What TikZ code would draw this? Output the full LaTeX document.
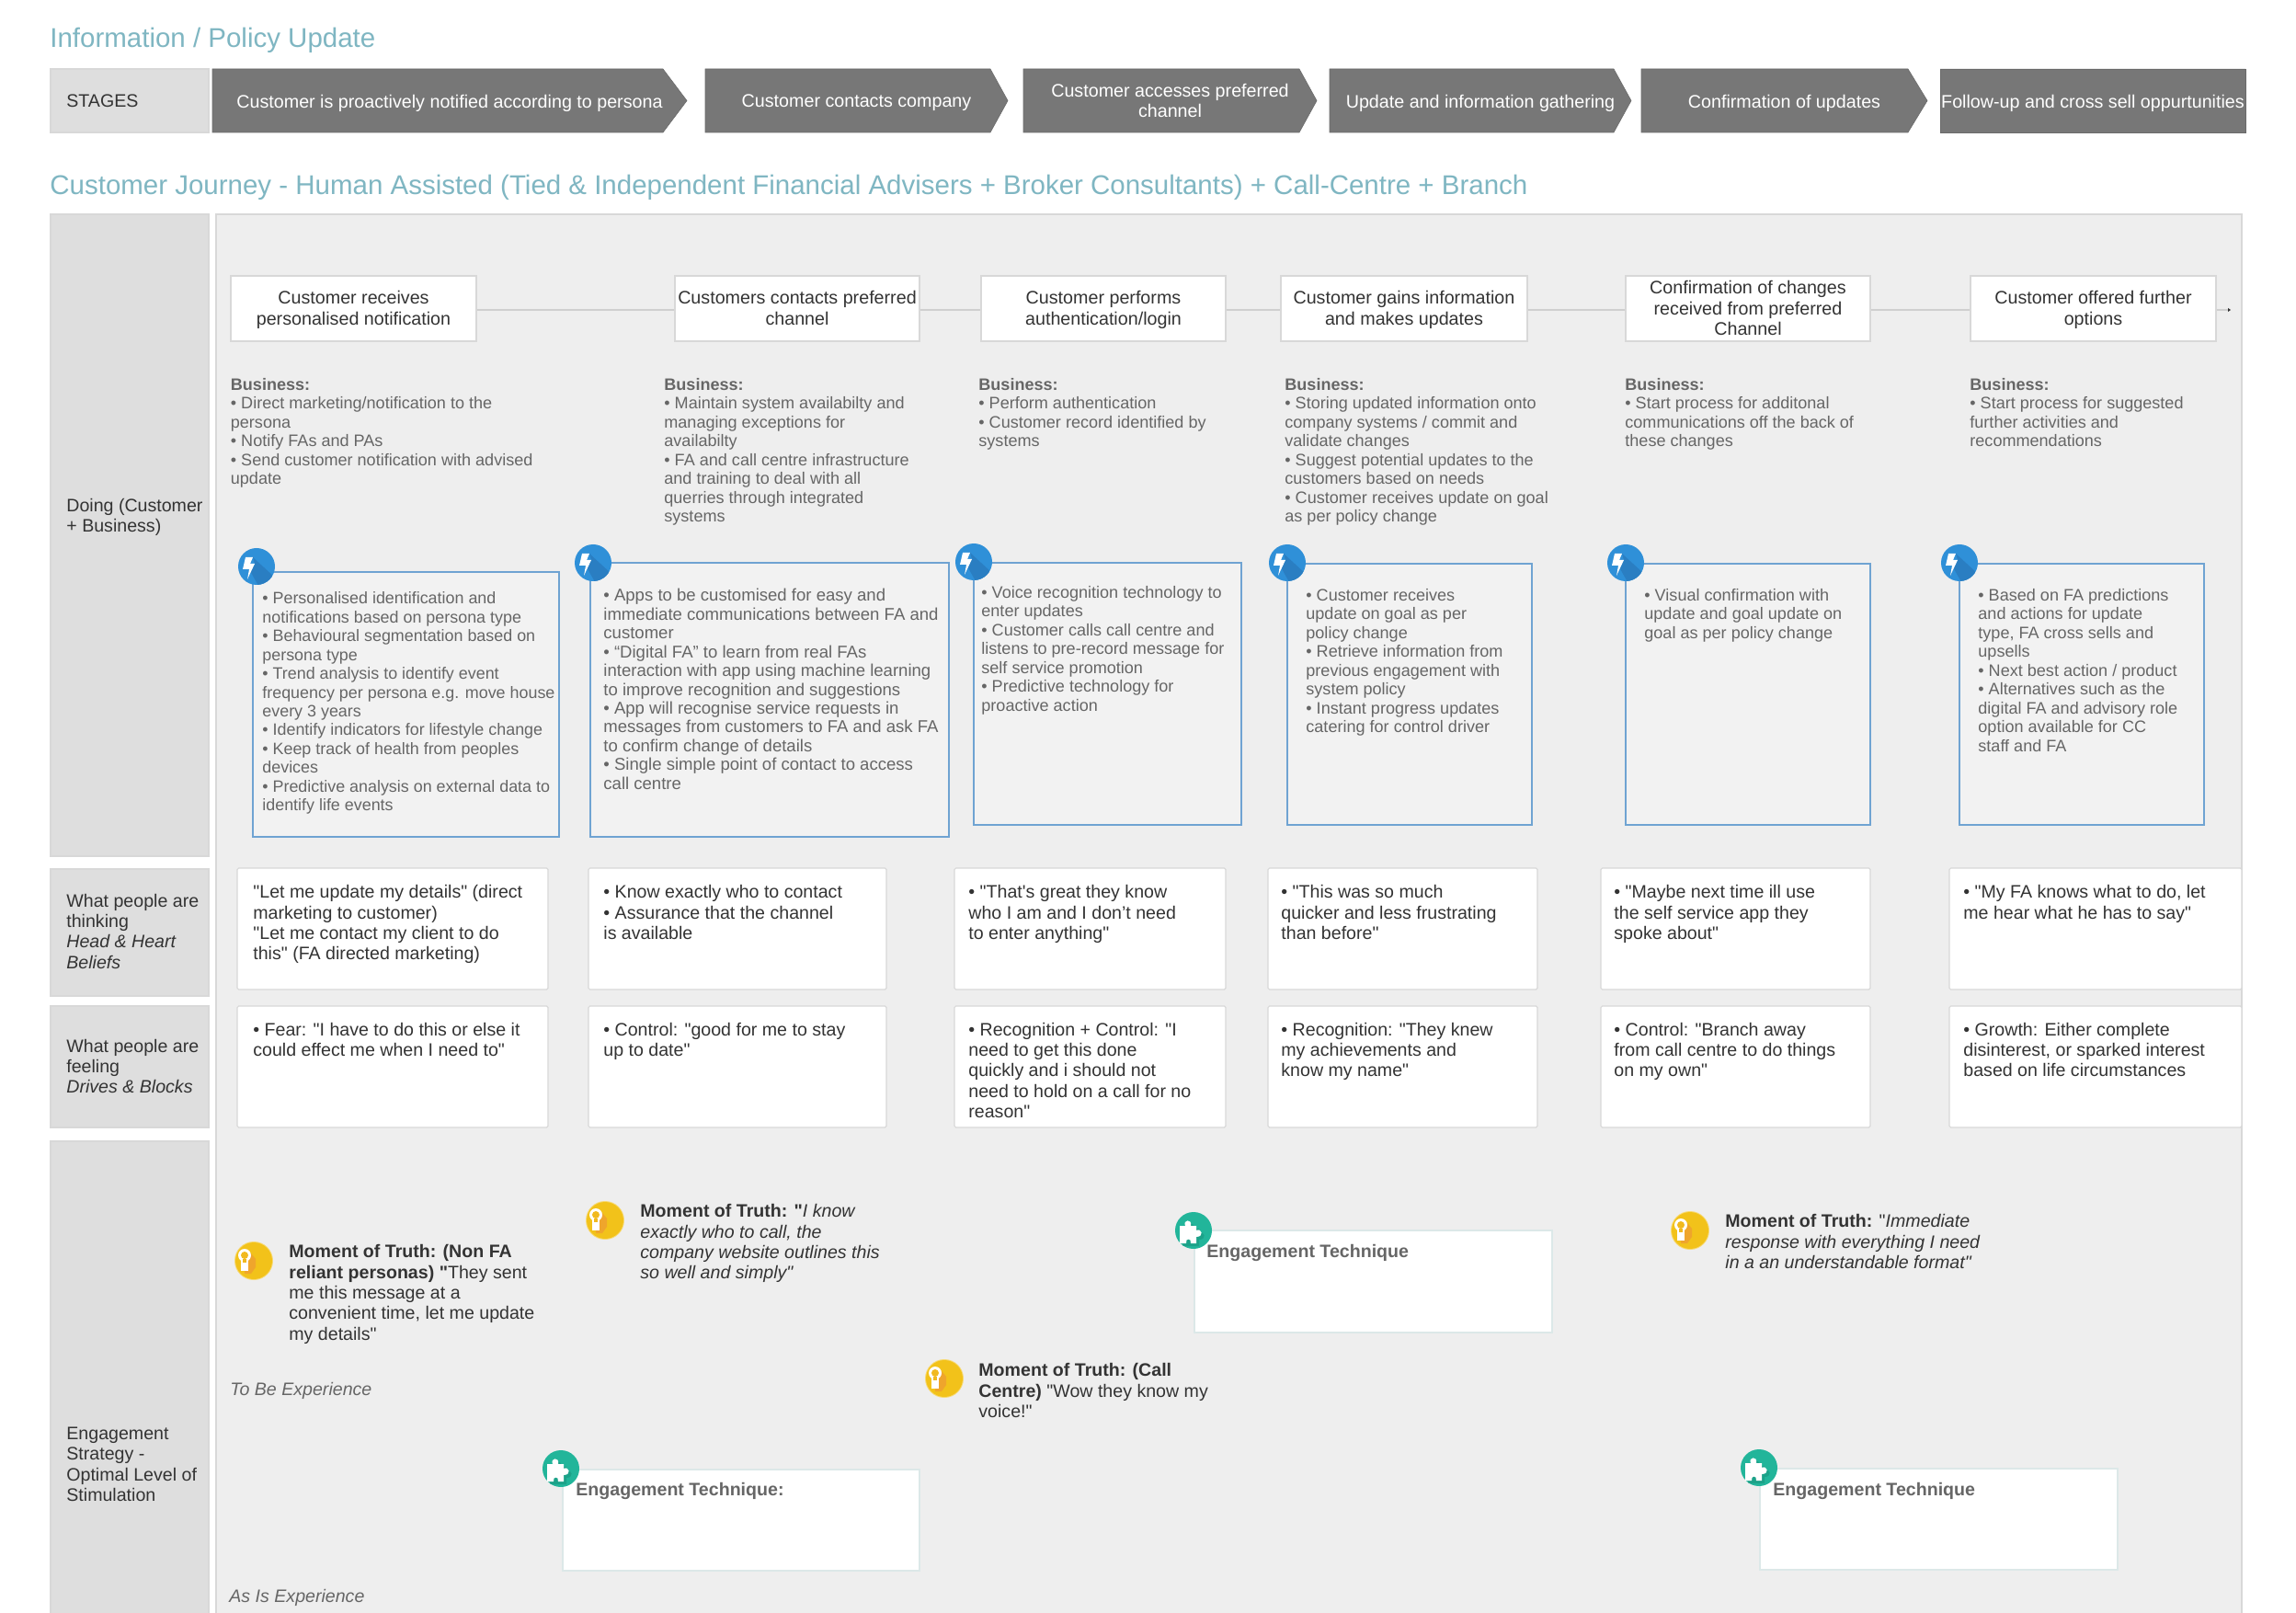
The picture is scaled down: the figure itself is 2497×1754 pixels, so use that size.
\documentclass[tikz,border=0pt]{standalone}
\usepackage{fontspec}
\setmainfont{Liberation Sans}[Ligatures=TeXOff]
\definecolor{titleC}{HTML}{7FB6C2}
\definecolor{leftC}{HTML}{DEDEDE}
\definecolor{panelC}{HTML}{EEEEEE}
\definecolor{edgeC}{HTML}{D8D8D8}
\definecolor{lineC}{HTML}{CFCFCF}
\definecolor{stageC}{HTML}{777777}
\definecolor{dark}{HTML}{333333}
\definecolor{mid}{HTML}{666666}
\definecolor{blueE}{HTML}{6FA3D2}
\definecolor{blueF}{HTML}{F2F2F2}
\definecolor{blueI}{HTML}{2F90D8}
\definecolor{blueS}{HTML}{2A7EC2}
\definecolor{yellI}{HTML}{F2C21A}
\definecolor{orngI}{HTML}{EFA52C}
\definecolor{teal}{HTML}{22B59A}
\definecolor{tealS}{HTML}{1CA289}
\definecolor{techE}{HTML}{DCE8E8}
\tikzset{
  x=0.5pt,y=-0.5pt,
  tb/.style={anchor=north west,inner sep=0pt,align=left,execute at begin node={\rule{0pt}{7pt}}},
  small/.style={font=\fontsize{9.03}{10.22}\selectfont,text=mid},
  smallwide/.style={font=\fontsize{9.28}{10.22}\selectfont,text=mid},
  card/.style={font=\fontsize{9.8}{11.2}\selectfont,text=dark},
  rowlabel/.style={font=\fontsize{9.8}{11.2}\selectfont,text=dark},
  bigtitle/.style={font=\fontsize{14.74}{18}\selectfont,text=titleC},
  leftpanel/.style={draw=edgeC,fill=leftC,line width=0.6pt,inner sep=0pt},
  mainpanel/.style={draw=edgeC,fill=panelC,line width=0.6pt,inner sep=0pt},
  stepbox/.style={draw=edgeC,fill=white,line width=0.7pt,inner sep=0pt},
  steptext/.style={tb,anchor=north,align=center,font=\fontsize{9.85}{11.2}\selectfont,text=dark},
  bluebox/.style={draw=blueE,fill=blueF,line width=0.7pt,inner sep=0pt},
  whitecard/.style={draw=edgeC,fill=white,line width=0.6pt,inner sep=0pt,rounded corners=0.8pt},
  techcard/.style={draw=techE,fill=white,line width=0.6pt,inner sep=0pt},
  stagefill/.style={fill=stageC,draw=stageC!90!black,line width=0.3pt},
  stagetext/.style={tb,anchor=north,align=center,font=\fontsize{9.85}{11.2}\selectfont,text=white},
  conn/.style={draw=lineC,line width=1pt},
  boltpic/.pic={
    \fill[blueI] (0,0) circle[radius=20];
    \begin{scope}
      \clip (0,0) circle[radius=20];
      \fill[blueS] (-4,-10) -- (-2,-3) -- (-10,14) -- (-8,3) -- (6,28) -- (20,12) -- cycle;
    \end{scope}
    \fill[white] (-12,-10) -- (-4,-10) -- (-7,-3) -- (-2,-3) -- (-10,14) -- (-8,3) -- (-15,3) -- cycle;
  },
  bulbpic/.pic={
    \fill[yellI!60] (0,0) circle[radius=21];
    \fill[yellI] (0,0) circle[radius=20];
    \fill[orngI] (-10,-13) -- (-3,-8) -- (2,-2) -- (2,7) -- (-3,14) -- (-10,14) -- cycle;
    \fill[white] (-10,-6) circle[radius=7];
    \fill[white] (-14,-2) rectangle (-6,11);
    \fill[yellI!70!orngI] (-10,-6) circle[radius=4];
    \fill[yellI!70!orngI] (-12,-2) rectangle (-8,2);
  },
  puzzlepic/.pic={
    \fill[teal] (0,0) circle[radius=20];
    \begin{scope}
      \clip (0,0) circle[radius=20];
      \fill[tealS] (-12,-2) -- (-6,-2) .. controls (-9,-9) and (2,-10) .. (0,-2) -- (6,-2) -- (6,3) .. controls (12,0) and (15,10) .. (6,10) -- (6,17) -- (-12,17) -- cycle;
    \end{scope}
    \fill[white] (-15,-5) -- (-9,-5) .. controls (-12,-12) and (-1,-13) .. (-3,-5) -- (3,-5) -- (3,0) .. controls (9,-3) and (12,7) .. (3,7) -- (3,14) -- (-3,14) .. controls (-2,8) and (-9,8) .. (-8,14) -- (-15,14) -- cycle;
  }
}
\newcommand{\bx}[6]{\node[#6,minimum width={(#4-#2)*0.5pt},minimum height={(#5-#3)*0.5pt}] (#1) at ({(#2+#4)/2},{(#3+#5)/2}) {};}
\newcommand{\sbx}[7]{\node[stepbox,minimum width={(#4-#2)*0.5pt},minimum height={(#5-#3)*0.5pt}] (#1) at ({(#2+#4)/2},{(#3+#5)/2}) {};
  \node[steptext] (#1t) at ({(#2+#4)/2},{#6-7.5}) {#7};}
\newcommand{\tx}[5]{\node[tb,#4] (#1) at (#2,{#3-7.5}) {#5};}
\newcommand{\stg}[6]{\fill[stagefill] (#2,75) -- (#3,75) -- (#4,109.5) -- (#3,144) -- (#2,144) -- cycle;
  \node[stagetext] (#1) at ({(#2+#4)/2},{#5-7.5}) {#6};}
\begin{document}
\begin{tikzpicture}
\useasboundingbox (0,0) rectangle (2497,1754);
\fill[white] (0,0) rectangle (2497,1754);
% titles
\node[tb,bigtitle] (title) at (54,30) {Information / Policy Update};
\node[tb,bigtitle] (journey) at (54,190) {Customer Journey - Human Assisted (Tied \& Independent Financial Advisers + Broker Consultants) + Call-Centre + Branch};
% stages
\bx{stagesbox}{55}{75}{227}{144}{leftpanel}
\tx{stages}{72}{110}{rowlabel}{STAGES}
\stg{a1}{231}{721}{747}{110}{Customer is proactively notified according to persona}
\stg{a2}{767}{1077}{1096}{110}{Customer contacts company}
\stg{a3}{1113}{1413}{1432}{98}{Customer accesses preferred\\channel}
\stg{a4}{1446}{1755}{1774}{110}{Update and information gathering}
\stg{a5}{1785}{2075}{2096}{110}{Confirmation of updates}
\stg{a6}{2110}{2442}{2442}{110}{Follow-up and cross sell oppurtunities}
% panels
\bx{leftdoing}{55}{233}{227}{931}{leftpanel}
\bx{leftthink}{55}{945}{227}{1083}{leftpanel}
\bx{leftfeel}{55}{1094}{227}{1226}{leftpanel}
\bx{leftengage}{55}{1241}{227}{1770}{leftpanel}
\bx{mainp}{235}{233}{2438}{1770}{mainpanel}
% row labels
\tx{ldoing}{72}{549}{rowlabel}{Doing (Customer\\+ Business)}
\tx{lthink}{72}{979}{rowlabel}{What people are\\thinking\\\textit{Head \& Heart}\\\textit{Beliefs}}
\tx{lfeel}{72}{1137}{rowlabel}{What people are\\feeling\\\textit{Drives \& Blocks}}
\tx{lengage}{72}{1559}{rowlabel}{Engagement\\Strategy -\\Optimal Level of\\Stimulation}
% steps
\sbx{b1}{251}{300}{518}{371}{323.5}{Customer receives\\personalised notification}
\sbx{b2}{734}{300}{1000}{371}{323.5}{Customers contacts preferred\\channel}
\sbx{b3}{1067}{300}{1333}{371}{323.5}{Customer performs\\authentication/login}
\sbx{b4}{1393}{300}{1661}{371}{323.5}{Customer gains information\\and makes updates}
\sbx{b5}{1768}{300}{2034}{371}{312.5}{Confirmation of changes\\received from preferred\\Channel}
\sbx{b6}{2143}{300}{2410}{371}{323.5}{Customer offered further\\options}
\coordinate (bend) at (2425,337);
\draw[conn] ([yshift=-0.75pt]b1.east) -- ([yshift=-0.75pt]b2.west);
\draw[conn] ([yshift=-0.75pt]b2.east) -- ([yshift=-0.75pt]b3.west);
\draw[conn] ([yshift=-0.75pt]b3.east) -- ([yshift=-0.75pt]b4.west);
\draw[conn] ([yshift=-0.75pt]b4.east) -- ([yshift=-0.75pt]b5.west);
\draw[conn] ([yshift=-0.75pt]b5.east) -- ([yshift=-0.75pt]b6.west);
\draw[conn] ([yshift=-0.75pt]b6.east) -- (bend);
\fill[dark] (bend) ++(-2,-2) -- ++(3,2) -- ++(-3,2) -- cycle;
% business
\tx{bus1}{250.5}{418.5}{small}{\textbf{Business:}\\• Direct marketing/notification to the\\persona\\• Notify FAs and PAs\\• Send customer notification with advised\\update}
\tx{bus2}{722}{418.5}{small}{\textbf{Business:}\\• Maintain system availabilty and\\managing exceptions for\\availabilty\\• FA and call centre infrastructure\\and training to deal with all\\querries through integrated\\systems}
\tx{bus3}{1064}{418.5}{small}{\textbf{Business:}\\• Perform authentication\\• Customer record identified by\\systems}
\tx{bus4}{1397}{418.5}{small}{\textbf{Business:}\\• Storing updated information onto\\company systems / commit and\\validate changes\\• Suggest potential updates to the\\customers based on needs\\• Customer receives update on goal\\as per policy change}
\tx{bus5}{1767}{418.5}{small}{\textbf{Business:}\\• Start process for additonal\\communications off the back of\\these changes}
\tx{bus6}{2142}{418.5}{small}{\textbf{Business:}\\• Start process for suggested\\further activities and\\recommendations}
% blue boxes
\bx{tech1}{275}{622}{608}{910}{bluebox}
\bx{tech2}{642}{612}{1032}{910}{bluebox}
\bx{tech3}{1059}{612}{1350}{897}{bluebox}
\bx{tech4}{1400}{613}{1666}{897}{bluebox}
\bx{tech5}{1768}{613}{2034}{897}{bluebox}
\bx{tech6}{2131}{613}{2397}{897}{bluebox}
\pic at (279,616) {boltpic};
\pic at (645,612) {boltpic};
\pic at (1059,611) {boltpic};
\pic at (1400,612) {boltpic};
\pic at (1768,612) {boltpic};
\pic at (2131,612) {boltpic};
\tx{tt1}{285}{651}{small,font=\fontsize{8.95}{10.22}\selectfont}{• Personalised identification and\\notifications based on persona type\\• Behavioural segmentation based on\\persona type\\• Trend analysis to identify event\\frequency per persona e.g. move house\\every 3 years\\• Identify indicators for lifestyle change\\• Keep track of health from peoples\\devices\\• Predictive analysis on external data to\\identify life events}
\tx{tt2}{656}{647.5}{smallwide}{• Apps to be customised for easy and\\immediate communications between FA and\\customer\\• “Digital FA” to learn from real FAs\\interaction with app using machine learning\\to improve recognition and suggestions\\• App will recognise service requests in\\messages from customers to FA and ask FA\\to confirm change of details\\• Single simple point of contact to access\\call centre}
\tx{tt3}{1067}{644.5}{small}{• Voice recognition technology to\\enter updates\\• Customer calls call centre and\\listens to pre-record message for\\self service promotion\\• Predictive technology for\\proactive action}
\tx{tt4}{1420}{647.5}{small}{• Customer receives\\update on goal as per\\policy change\\• Retrieve information from\\previous engagement with\\system policy\\• Instant progress updates\\catering for control driver}
\tx{tt5}{1788}{647.5}{small}{• Visual confirmation with\\update and goal update on\\goal as per policy change}
\tx{tt6}{2151}{647.5}{small}{• Based on FA predictions\\and actions for update\\type, FA cross sells and\\upsells\\• Next best action / product\\• Alternatives such as the\\digital FA and advisory role\\option available for CC\\staff and FA}
% thinking cards
\bx{th1}{258}{944}{596}{1076}{whitecard}
\bx{th2}{640}{944}{964}{1076}{whitecard}
\bx{th3}{1038}{944}{1333}{1076}{whitecard}
\bx{th4}{1379}{944}{1672}{1076}{whitecard}
\bx{th5}{1741}{944}{2034}{1076}{whitecard}
\bx{th6}{2120}{944}{2438}{1076}{whitecard}
\tx{tht1}{275}{969.5}{card}{"Let me update my details" (direct\\marketing to customer)\\"Let me contact my client to do\\this" (FA directed marketing)}
\tx{tht2}{656}{969.5}{card}{• Know exactly who to contact\\• Assurance that the channel\\is available}
\tx{tht3}{1053}{969.5}{card}{• "That's great they know\\who I am and I don’t need\\to enter anything"}
\tx{tht4}{1393}{969.5}{card}{• "This was so much\\quicker and less frustrating\\than before"}
\tx{tht5}{1755}{969.5}{card}{• "Maybe next time ill use\\the self service app they\\spoke about"}
\tx{tht6}{2135}{969.5}{card}{• "My FA knows what to do, let\\me hear what he has to say"}
% feeling cards
\bx{fe1}{258}{1094}{596}{1226}{whitecard}
\bx{fe2}{640}{1094}{964}{1226}{whitecard}
\bx{fe3}{1038}{1094}{1333}{1226}{whitecard}
\bx{fe4}{1379}{1094}{1672}{1226}{whitecard}
\bx{fe5}{1741}{1094}{2034}{1226}{whitecard}
\bx{fe6}{2120}{1094}{2438}{1226}{whitecard}
\tx{fet1}{275}{1119}{card}{• Fear: "I have to do this or else it\\could effect me when I need to"}
\tx{fet2}{656}{1119}{card}{• Control: "good for me to stay\\up to date"}
\tx{fet3}{1053}{1119}{card}{• Recognition + Control: "I\\need to get this done\\quickly and i should not\\need to hold on a call for no\\reason"}
\tx{fet4}{1393}{1119}{card}{• Recognition: "They knew\\my achievements and\\know my name"}
\tx{fet5}{1755}{1119}{card}{• Control: "Branch away\\from call centre to do things\\on my own"}
\tx{fet6}{2135}{1119}{card}{• Growth: Either complete\\disinterest, or sparked interest\\based on life circumstances}
% moments of truth
\pic at (276,1371) {bulbpic};
\pic at (658,1327) {bulbpic};
\pic at (1027,1499) {bulbpic};
\pic at (1838,1338) {bulbpic};
\tx{m1}{314}{1360.5}{card}{\textbf{Moment of Truth: (Non FA}\\\textbf{reliant personas) "}They sent\\me this message at a\\convenient time, let me update\\my details"}
\tx{m2}{696}{1316.5}{card}{\textbf{Moment of Truth: "}\textit{I know}\\\textit{exactly who to call, the}\\\textit{company website outlines this}\\\textit{so well and simply"}}
\tx{m3}{1064}{1489.5}{card}{\textbf{Moment of Truth: (Call}\\\textbf{Centre)} "Wow they know my\\voice!"}
\tx{m4}{1876}{1327.5}{card}{\textbf{Moment of Truth:} "\textit{Immediate}\\\textit{response with everything I need}\\\textit{in a an understandable format"}}
\tx{tobe}{250}{1510}{card,text=mid}{\textit{To Be Experience}}
\tx{asis}{249}{1735}{card,text=mid}{\textit{As Is Experience}}
% engagement techniques
\bx{et1}{1299}{1338}{1688}{1449}{techcard}
\bx{et2}{612}{1598}{1000}{1708}{techcard}
\bx{et3}{1914}{1597}{2303}{1707}{techcard}
\pic at (1298,1338) {puzzlepic};
\pic at (610,1597) {puzzlepic};
\pic at (1913,1596) {puzzlepic};
\tx{ett1}{1312}{1360.5}{card,text=mid}{\textbf{Engagement Technique}}
\tx{ett2}{626}{1619.5}{card,text=mid}{\textbf{Engagement Technique:}}
\tx{ett3}{1928}{1619.5}{card,text=mid}{\textbf{Engagement Technique}}
\end{tikzpicture}
\end{document}
